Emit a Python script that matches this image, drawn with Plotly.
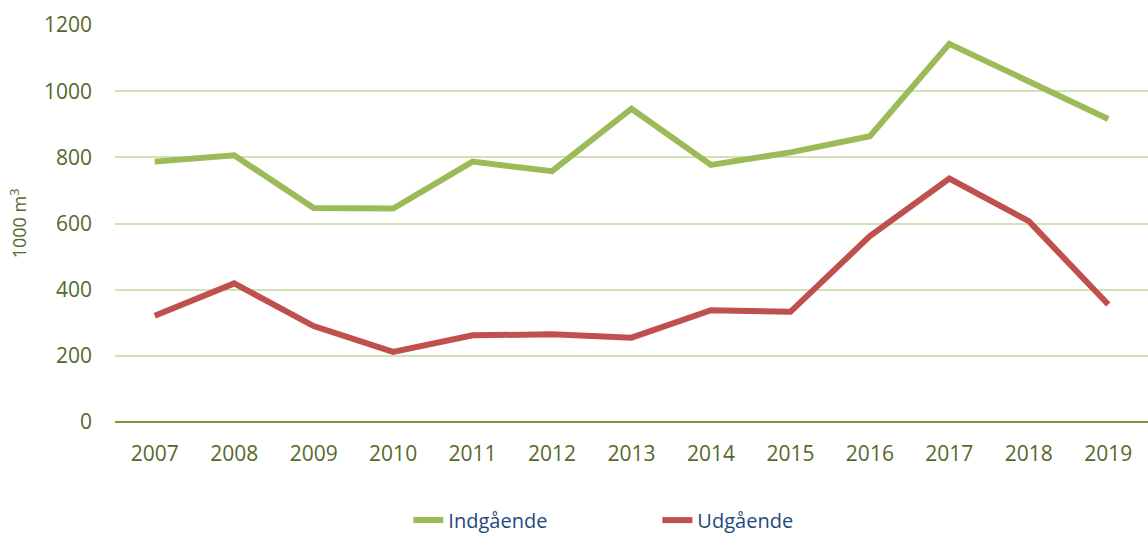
import plotly.graph_objects as go

years = ["2007", "2008", "2009", "2010", "2011", "2012", "2013",
         "2014", "2015", "2016", "2017", "2018", "2019"]
indgaende = [787, 806, 647, 645, 787, 758, 947, 777, 815, 864, 1143, 1030, 916]
udgaende = [321, 419, 290, 212, 262, 265, 255, 338, 333, 562, 736, 607, 355]
y_ticks = [0, 200, 400, 600, 800, 1000, 1200]

font_family = "'Open Sans', sans-serif"
olive = "#55692b"

fig = go.Figure()
fig.add_trace(go.Scatter(x=years, y=indgaende, mode="lines", name="Indgående",
                         line=dict(color="#9bbb59", width=6)))
fig.add_trace(go.Scatter(x=years, y=udgaende, mode="lines", name="Udgående",
                         line=dict(color="#c0504d", width=6)))

fig.update_layout(
    width=1148, height=534,
    margin=dict(l=115, r=0, t=25, b=112, autoexpand=False),
    paper_bgcolor="white", plot_bgcolor="white",
    font=dict(family=font_family, size=21, color=olive),
    showlegend=True,
    legend=dict(orientation="h", x=0.284, xanchor="left",
                yref="container", y=0.026, yanchor="middle",
                font=dict(size=20, color="#1f497d"),
                entrywidth=204, entrywidthmode="pixels"),
    xaxis=dict(type="category", range=[-0.5, 12.5], showgrid=False, ticks="",
               showline=False, tickfont=dict(size=21, color=olive), zeroline=False,
               ticklabelstandoff=17),
    yaxis=dict(range=[0, 1200], tickvals=y_ticks, showgrid=True,
               gridcolor="#d3e2b6", gridwidth=2, zeroline=True,
               zerolinecolor="#7a9440", zerolinewidth=2,
               tickfont=dict(size=21, color=olive), ticks="",
               ticklabelstandoff=22,
               title=dict(text="1000 m<sup>3</sup>", font=dict(size=18, color=olive),
                          standoff=12)),
)

fig.write_html("out.html", config={"displayModeBar": False},
               post_script="document.body.style.margin='0';document.body.style.overflow='hidden';")
